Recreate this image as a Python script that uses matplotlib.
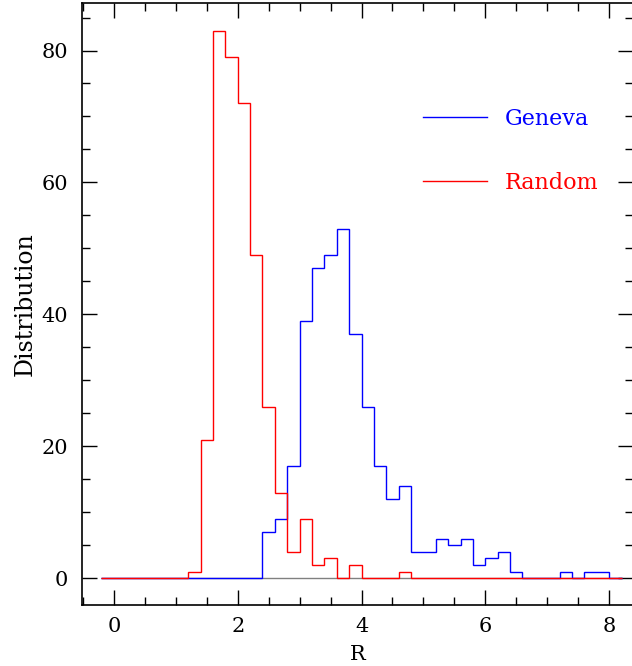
import numpy as np
import matplotlib
matplotlib.use("Agg")
import matplotlib.pyplot as plt
from matplotlib.ticker import MultipleLocator

# histogram bins: width 0.2 from -0.2 to 8.2
bin_start = -0.2
bin_width = 0.2
geneva = [0, 0, 0, 0, 0, 0, 0, 0, 0, 0,
          0, 0, 0, 7, 9, 17, 39, 47, 49, 53,
          37, 26, 17, 12, 14, 4, 4, 6, 5, 6,
          2, 3, 4, 1, 0, 0, 0, 1, 0, 1,
          1, 0]
random_ = [0, 0, 0, 0, 0, 0, 0, 1, 21, 83,
           79, 72, 49, 26, 13, 4, 9, 2, 3, 0,
           2, 0, 0, 0, 1, 0, 0, 0, 0, 0,
           0, 0, 0, 0, 0, 0, 0, 0, 0, 0,
           0, 0]
labels = ["Geneva", "Random"]

edges = bin_start + bin_width * np.arange(len(geneva) + 1)

plt.rcParams['font.family'] = ['DejaVu Serif']

fig = plt.figure(figsize=(6.32, 6.66), dpi=100)
ax = fig.add_axes([82.3 / 632, 61 / 666, 551 / 632, 602 / 666])

ax.hlines(0, edges[0], edges[-1], color='gray', lw=1.0, zorder=1)
ax.stairs(geneva, edges, color='blue', lw=1.0, label=labels[0], zorder=2)
ax.stairs(random_, edges, color='red', lw=1.0, label=labels[1], zorder=3)

ax.set_xlim(-0.51, 8.39)
ax.set_ylim(-4.05, 87.2)

ax.xaxis.set_major_locator(MultipleLocator(2))
ax.xaxis.set_minor_locator(MultipleLocator(0.5))
ax.yaxis.set_major_locator(MultipleLocator(20))
ax.yaxis.set_minor_locator(MultipleLocator(5))
ax.tick_params(which='both', direction='in', top=True, right=True, width=1.0)
ax.tick_params(which='major', length=11, labelsize=15)
ax.tick_params(which='minor', length=5.5)
ax.tick_params(axis='y', which='major', pad=10)
ax.tick_params(axis='x', which='major', pad=9)
for s in ax.spines.values():
    s.set_linewidth(1.2)

ax.set_xlabel("R", fontsize=15, labelpad=6)
ax.set_ylabel("Distribution", fontsize=17, labelpad=4)

leg = ax.legend(loc='upper left', bbox_to_anchor=(0.618, 0.826), frameon=False,
                fontsize=16, handlelength=2.9, handletextpad=0.8,
                labelspacing=1.9, borderpad=0, borderaxespad=0)
for txt, c in zip(leg.get_texts(), ['blue', 'red']):
    txt.set_color(c)

fig.savefig("out.png", dpi=100)
